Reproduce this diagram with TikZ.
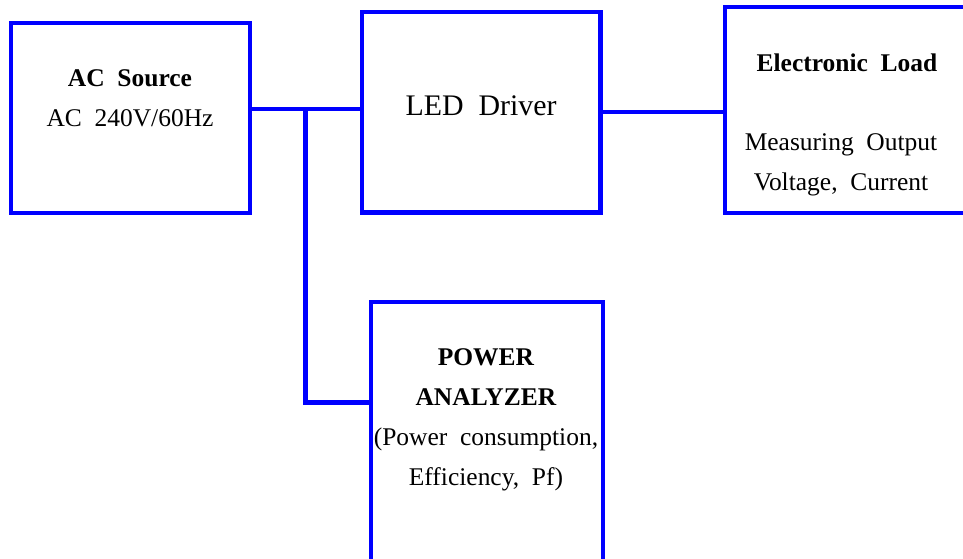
\documentclass[tikz,border=0pt]{standalone}
\usepackage{fontspec}
\setmainfont{Liberation Serif}[WordSpace=2]
\definecolor{wireblue}{HTML}{0000FF}
\tikzset{
  wire/.style={draw=wireblue, line width=2.3pt},
  unit/.style={rectangle, draw=wireblue, line width=2.3pt, fill=white, inner sep=0pt},
  caption/.style={align=center, font=\fontsize{14.5}{22.7}\selectfont, inner sep=0pt}
}
\begin{document}
\begin{tikzpicture}[x=0.02cm, y=-0.02cm]
  \useasboundingbox (0,0) rectangle (963,558);
  \clip (0,0) rectangle (963,558);

  % blocks
  \node[unit, minimum width=4.77cm, minimum height=3.8cm] (source) at (130.6,118) {};
  \node[unit, minimum width=4.78cm, minimum height=4.02cm] (driver) at (481,112) {};
  \node[unit, minimum width=4.9cm, minimum height=4.13cm] (load) at (847.5,110) {};
  \node[unit, minimum width=4.64cm, minimum height=5.36cm] (analyzer) at (487,436) {};

  % texts
  \node[caption] (sourcetext) at (130,98.5) {\textbf{AC Source}\\AC 240V/60Hz};
  \node[caption, font=\fontsize{17}{22.7}\selectfont] (drivertext) at (481,106) {LED Driver};
  \node[caption] (loadtitle) at (847,63) {\textbf{Electronic Load}};
  \node[caption] (loadtext) at (841,165) {Measuring Output\\Voltage, Current};
  \node[caption] (analyzertext) at (486,420)
    {\textbf{POWER}\\\textbf{ANALYZER}\\(Power consumption,\\Efficiency, Pf)};

  % wiring
  \coordinate (tap) at (305.5,108.7);
  \coordinate (bend) at (305.5,402.5);
  \draw[wire] (tap -| source.east) -- (tap -| driver.west);
  \draw[wire] (tap) -- (bend) -- (bend -| analyzer.west);
  \draw[wire] (driver.east) -- (driver.east -| load.west);
\end{tikzpicture}
\end{document}
